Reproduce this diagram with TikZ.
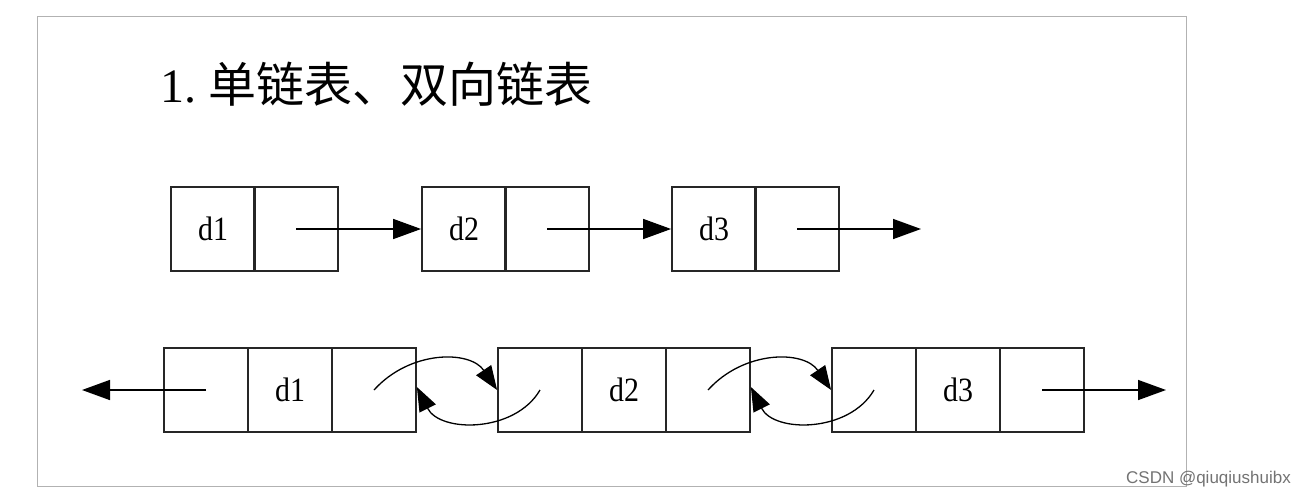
\documentclass[tikz,border=0pt]{standalone}
\usepackage{fontspec}
\setmainfont{Liberation Serif}
\newfontfamily\cjk{Noto Sans CJK SC}
\newfontfamily\wmfont{Liberation Sans}
\usetikzlibrary{arrows.meta}
\begin{document}
\begin{tikzpicture}[x=1pt,y=-1pt,
  cell/.style={draw=black!85, line width=1.8pt, minimum width=84pt, minimum height=84pt, inner sep=0pt,
    font=\fontsize{34}{34}\selectfont},
  arr/.style={line width=1.5pt, -{Triangle[length=28pt,width=20pt]}},
  carr/.style={line width=1.3pt, -{Triangle[length=24pt,width=18pt]}}]
\useasboundingbox (0,0) rectangle (1303,496);
\fill[white] (0,0) rectangle (1303,496);
\draw[black!30, line width=1pt] (37,16) rectangle (1186,486);
\node[anchor=west, inner sep=0pt] (title) at (160,84)
  {\fontsize{48}{48}\selectfont 1.\hspace{12pt}{\cjk 单链表、双向链表}};
% row 1
\node[cell] (a1d) at (213,229) {\scalebox{0.88}[1]{d1}};
\node[cell] (a1p) at (296,229) {};
\node[cell] (a2d) at (464,229) {\scalebox{0.88}[1]{d2}};
\node[cell] (a2p) at (547,229) {};
\node[cell] (a3d) at (714,229) {\scalebox{0.88}[1]{d3}};
\node[cell] (a3p) at (797,229) {};
\coordinate (aend) at (921,229);
\draw[arr] (a1p.center) -- (a2d.west);
\draw[arr] (a2p.center) -- (a3d.west);
\draw[arr] (a3p.center) -- (aend);
% row 2
\node[cell] (b1l) at (206,390) {};
\node[cell] (b1d) at (290,390) {\scalebox{0.88}[1]{d1}};
\node[cell] (b1r) at (374,390) {};
\node[cell] (b2l) at (540,390) {};
\node[cell] (b2d) at (624,390) {\scalebox{0.88}[1]{d2}};
\node[cell] (b2r) at (708,390) {};
\node[cell] (b3l) at (874,390) {};
\node[cell] (b3d) at (958,390) {\scalebox{0.88}[1]{d3}};
\node[cell] (b3r) at (1042,390) {};
\coordinate (bstart) at (82,390);
\coordinate (bend) at (1166,390);
\draw[arr] (b1l.center) -- (bstart);
\draw[arr] (b3r.center) -- (bend);
\draw[carr] (b1r.center) .. controls (410,350) and (470,350) .. (b2l.west);
\draw[carr] (b2l.center) .. controls (515,433) and (440,433) .. ([yshift=3pt]b1r.east);
\draw[carr] (b2r.center) .. controls (744,350) and (804,350) .. (b3l.west);
\draw[carr] (b3l.center) .. controls (849,433) and (774,433) .. ([yshift=3pt]b2r.east);
\node[anchor=east, inner sep=0pt, text=black!55, font=\wmfont\fontsize{17}{17}\selectfont] (wm) at (1291,479) {CSDN @qiuqiushuibx};
\end{tikzpicture}
\end{document}
